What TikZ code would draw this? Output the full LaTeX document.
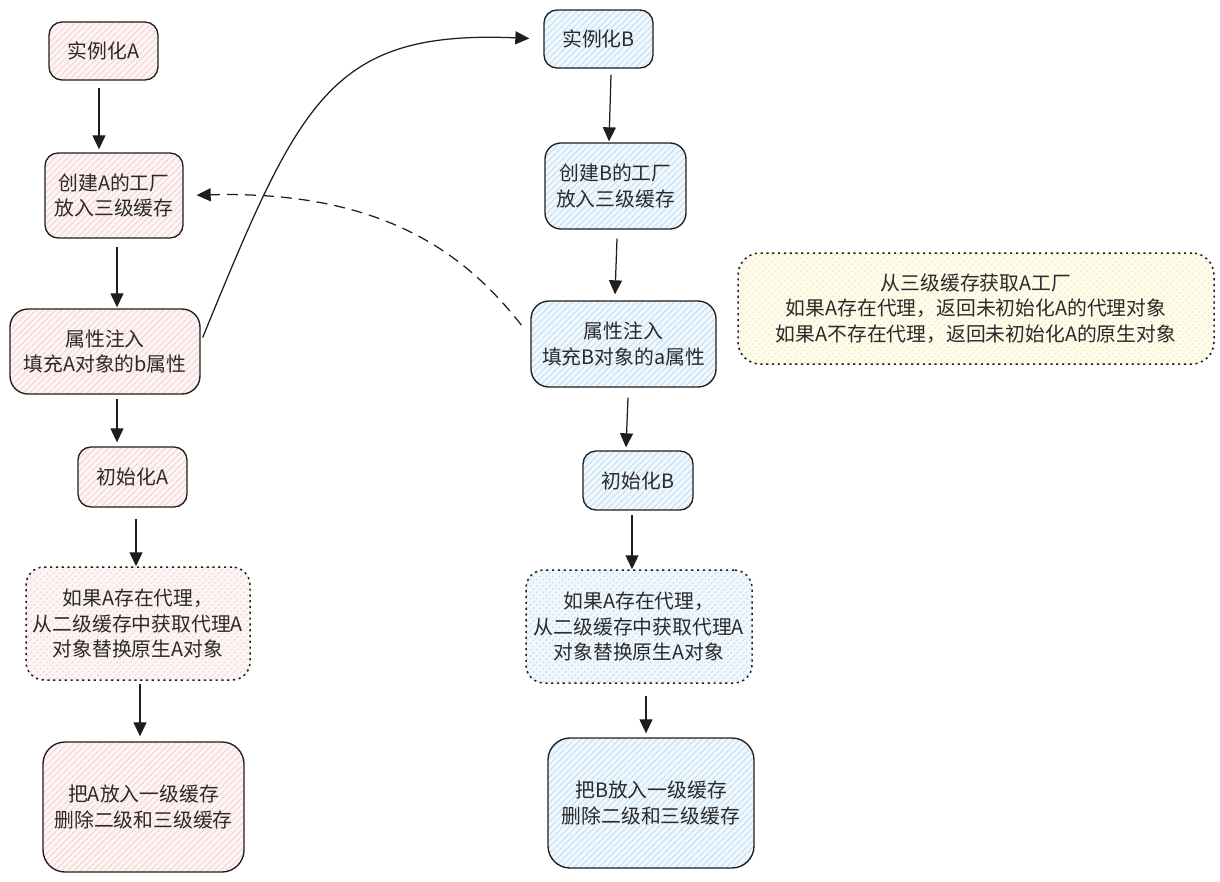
\documentclass[tikz,border=0pt]{standalone}
\usepackage{fontspec}
\setmainfont{Noto Sans CJK SC}
\usetikzlibrary{arrows.meta,patterns.meta}
\definecolor{ink}{HTML}{1E1E1E}
\definecolor{txt}{HTML}{2A2A2A}
\definecolor{pinkbg}{HTML}{FDF4F4}
\definecolor{pinkln}{HTML}{F7CACA}
\definecolor{bluebg}{HTML}{F0F7FD}
\definecolor{blueln}{HTML}{B4D9F3}
\definecolor{yelbg}{HTML}{FFFCEE}
\definecolor{yelln}{HTML}{F3E6A6}
\begin{document}
\begin{tikzpicture}[x=1pt,y=-1pt,
  every node/.style={font=\fontsize{19.8}{25.3}\selectfont, text=txt, align=center, inner sep=0pt},
  box/.style={draw=ink, line width=1.35pt, rounded corners=13pt},
  bigbox/.style={box, rounded corners=22pt},
  dotbox/.style={draw=ink, line width=1.5pt, rounded corners=18pt, dash pattern=on 2.2pt off 3.6pt},
  pinkfill/.style={preaction={fill=pinkbg}, pattern={Lines[angle=45,distance=4.5pt,line width=0.7pt]}, pattern color=pinkln},
  bluefill/.style={preaction={fill=bluebg}, pattern={Lines[angle=45,distance=4.5pt,line width=0.7pt]}, pattern color=blueln},
  yelfill/.style={preaction={fill=yelbg}, pattern={Lines[angle=45,distance=4.5pt,line width=0.7pt]}, pattern color=yelln},
  arr/.style={draw=ink, line width=1.25pt, -{Triangle[length=14pt,width=13pt]}},
  dasharr/.style={arr, dash pattern=on 11pt off 7pt}
]
\useasboundingbox (0,0) rectangle (1220,881);

% column A
\node[box,pinkfill,minimum width=109pt,minimum height=58pt] (a1) at (103.5,51) {实例化A};
\node[box,pinkfill,minimum width=138pt,minimum height=85pt] (a2) at (114,195.5) {创建A的工厂\\放入三级缓存};
\node[box,pinkfill,rounded corners=18pt,minimum width=190pt,minimum height=85pt] (a3) at (105,351.5) {属性注入\\填充A对象的b属性};
\node[box,pinkfill,minimum width=109pt,minimum height=60pt] (a4) at (132.5,477) {初始化A};
\node[dotbox,pinkfill,minimum width=224pt,minimum height=113pt] (a5) at (138,623.5) {如果A存在代理，\\从二级缓存中获取代理A\\对象替换原生A对象};
\node[bigbox,pinkfill,minimum width=201pt,minimum height=130pt] (a6) at (143.5,807) {把A放入一级缓存\\删除二级和三级缓存};

% column B
\node[box,bluefill,minimum width=109pt,minimum height=58pt] (b1) at (598.5,39) {实例化B};
\node[box,bluefill,rounded corners=16pt,minimum width=141pt,minimum height=86pt] (b2) at (615.5,186) {创建B的工厂\\放入三级缓存};
\node[box,bluefill,rounded corners=18pt,minimum width=185pt,minimum height=86pt] (b3) at (623.5,344) {属性注入\\填充B对象的a属性};
\node[box,bluefill,minimum width=110pt,minimum height=59pt] (b4) at (638,480.5) {初始化B};
\node[dotbox,bluefill,minimum width=226pt,minimum height=113pt] (b5) at (639,626.5) {如果A存在代理，\\从二级缓存中获取代理A\\对象替换原生A对象};
\node[bigbox,bluefill,minimum width=206pt,minimum height=130pt] (b6) at (651,803) {把B放入一级缓存\\删除二级和三级缓存};

% note
\node[dotbox,yelfill,rounded corners=22pt,minimum width=476pt,minimum height=111pt] (y1) at (976,308.5) {从三级缓存获取A工厂\\如果A存在代理，返回未初始化A的代理对象\\如果A不存在代理，返回未初始化A的原生对象};

% arrows A
\draw[arr] ([xshift=-4.5pt,yshift=-8pt]a1.south) -- ([xshift=-15pt,yshift=3pt]a2.north);
\draw[arr] ([xshift=3pt,yshift=-8pt]a2.south) -- ([xshift=12pt,yshift=1pt]a3.north);
\draw[arr] ([xshift=12pt,yshift=-4pt]a3.south) -- ([xshift=-15.5pt,yshift=4pt]a4.north);
\draw[arr] ([xshift=3.5pt,yshift=-11pt]a4.south) -- ([xshift=-2pt,yshift=0pt]a5.north);
\draw[arr] ([xshift=2pt,yshift=-3pt]a5.south) -- ([xshift=-3.5pt,yshift=5pt]a6.north);

% arrows B
\draw[arr] ([xshift=12.5pt,yshift=-6pt]b1.south) -- ([xshift=-6.5pt,yshift=1pt]b2.north);
\draw[arr] ([xshift=1.5pt,yshift=-9pt]b2.south) -- ([xshift=-8.5pt,yshift=6pt]b3.north);
\draw[arr] ([xshift=4.5pt,yshift=-10pt]b3.south) -- ([xshift=-12pt,yshift=3pt]b4.north);
\draw[arr] ([xshift=-6pt,yshift=-4pt]b4.south) -- ([xshift=-7pt,yshift=0pt]b5.north);
\draw[arr] ([xshift=7pt,yshift=-12pt]b5.south) -- ([xshift=-5pt,yshift=4pt]b6.north);

% cross arrows
\draw[arr, shorten >=14pt] ([xshift=2pt,yshift=14pt]a3.east) .. controls (300,100) and (330,30) .. (b1.west);
\draw[dasharr, shorten >=13pt] ([xshift=-9pt,yshift=19pt]b3.west) .. controls (470,260) and (390,190) .. (a2.east);
\end{tikzpicture}
\end{document}
